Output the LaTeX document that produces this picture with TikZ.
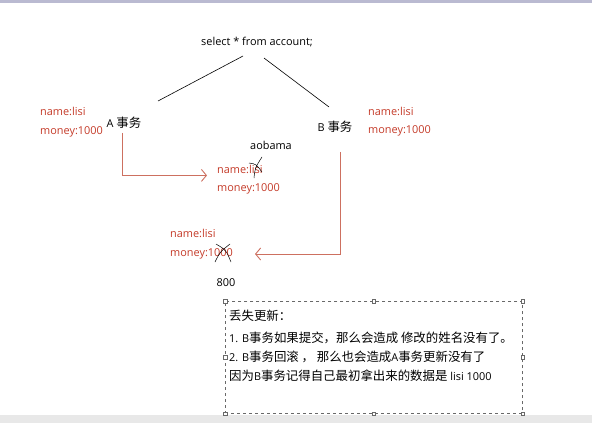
\documentclass[tikz,border=0pt]{standalone}
\usepackage{fontspec}
\setmainfont{Open Sans}
\newfontfamily\cjk[Scale=1.14]{Noto Sans CJK SC}
\usetikzlibrary{positioning,arrows.meta}
\definecolor{valred}{RGB}{196,58,40}
\definecolor{linered}{RGB}{205,112,96}
\definecolor{boxgray}{RGB}{105,105,105}

\begin{document}
\begin{tikzpicture}[x=1pt,y=-1pt,>={Straight Barb[length=5pt,width=12pt]},
  every node/.style={inner sep=0pt,font=\fontsize{10.9}{14}\selectfont},
  val/.style={text=valred,anchor=west},
  redline/.style={draw=linered,line width=0.9pt},
  notebox/.style={draw=boxgray,dashed,line width=0.8pt,anchor=north west},
  handle/.style={draw=boxgray,fill=white,line width=0.5pt,minimum size=3.5pt},
  noteline/.style={anchor=base west},
]
\useasboundingbox (0,0) rectangle (592,423);
\fill[blue!20!gray!45] (0,0) rectangle (592,3);
\fill[gray!18] (0,415) rectangle (592,423);

\node (sql) at (257,42) {select * from account;};
\node (ta) at (124,123) {A {\cjk 事务}};
\node (tb) at (335,127) {B {\cjk 事务}};

% values read by A and B
\node[val] (an) at (40,111) {name:lisi};
\node[val] (am) at ([yshift=-21pt]an.west) {money:1000};
\node[val] (bn) at (368,111) {name:lisi};
\node[val] (bm) at ([yshift=-20pt]bn.west) {money:1000};

% after A commits
\node (ob) at (271,145) {aobama};
\node[val] (mn) at (217,169) {name:lisi};
\node[val] (mm) at ([yshift=-20pt]mn.west) {money:1000};

% after B commits
\node[val] (ln) at (170,233) {name:lisi};
\node[val] (lm) at ([yshift=-21pt]ln.west) {money:1000};
\node (nv) at (226,283) {800};

\coordinate (s1) at (243,56);
\coordinate (s2) at (264,58);
\coordinate (ea) at (158,101);
\coordinate (eb) at (329,107);
\draw[line width=0.6pt] (s1) -- (ea);
\draw[line width=0.6pt] (s2) -- (eb);

\draw[redline,->] ([xshift=-2pt,yshift=-4pt]ta.south) |- ([xshift=-10pt,yshift=-2pt]mn.south west);
\draw[redline,->] ([xshift=5pt,yshift=-19pt]tb.south) |- ([xshift=22pt]lm.east);

% crossed out
\draw[line width=0.5pt] (254,178) .. controls (255,168) .. (262,157);
\draw[line width=0.5pt] (249,163) .. controls (256,164) .. (262,172);
\draw[line width=0.5pt] (216,244) .. controls (226,250) .. (231,262);
\draw[line width=0.5pt] (215,262) .. controls (220,252) .. (230,244);

% note
\node[notebox,minimum width=297pt,minimum height=112pt] (note) at (225,301) {};
\foreach \a in {north west,north,north east,east,south east,south,south west,west}
  \node[handle] at (note.\a) {};
\node[noteline] (n1) at (229,320.5) {\cjk 丢失更新：};
\node[noteline] (n2) at (229,342.5) {1. B{\cjk 事务如果提交，那么会造成 修改的姓名没有了。}};
\node[noteline] (n3) at (229,361.5) {2. B{\cjk 事务回滚 ， 那么也会造成}A{\cjk 事务更新没有了}};
\node[noteline] (n4) at (229,380.5) {{\cjk 因为}B{\cjk 事务记得自己最初拿出来的数据是} lisi 1000};
\end{tikzpicture}
\end{document}
